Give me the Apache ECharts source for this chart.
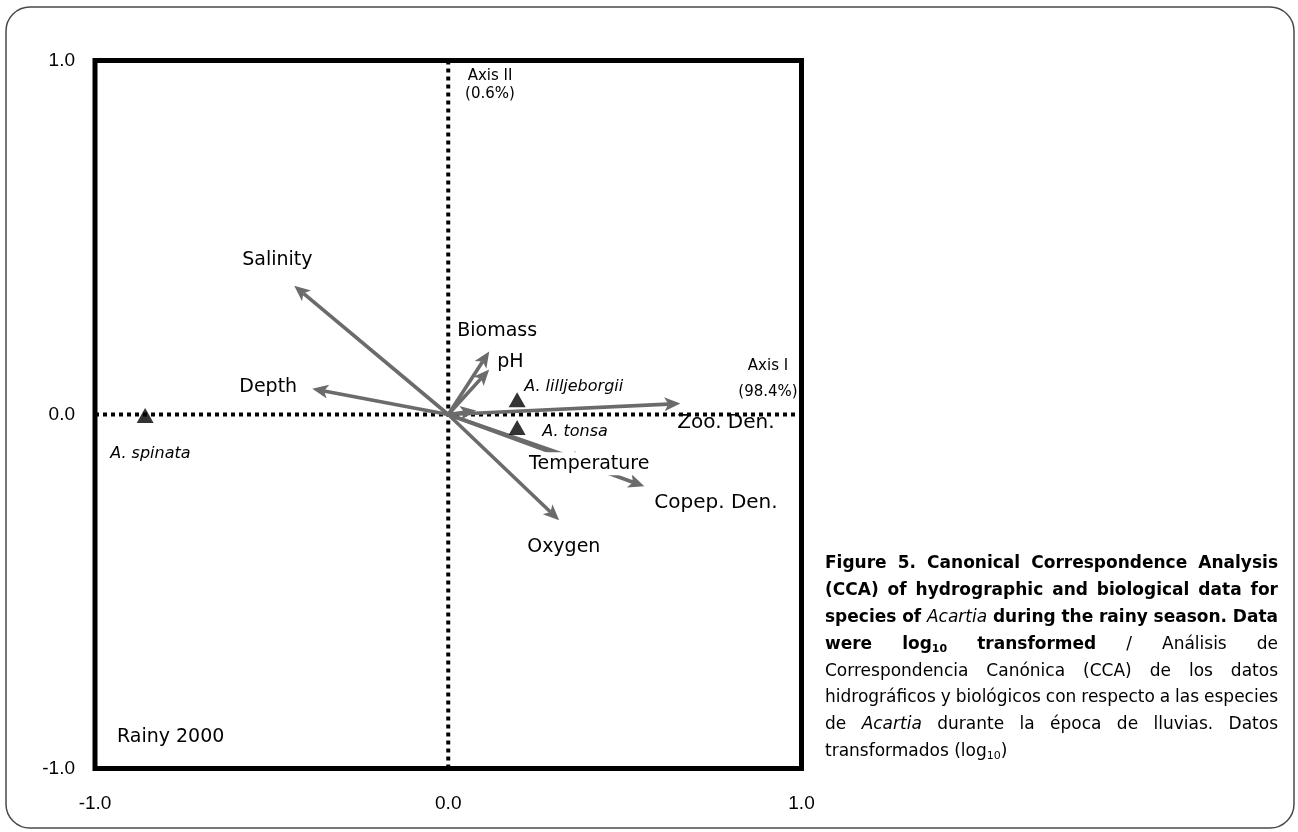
<!DOCTYPE html>
<html>
<head>
<meta charset="utf-8">
<title>CCA Acartia - Rainy 2000</title>
<script src="https://cdn.jsdelivr.net/npm/echarts@6/dist/echarts.min.js"></script>
<style>
  html, body { margin: 0; padding: 0; background: #fff; }
  #chart { width: 1298px; height: 832px; }
</style>
</head>
<body>
<div id="chart"></div>
<script>
// Environmental vectors: biplot scores on axis I and axis II
const vectorNames = ['Salinity', 'Depth', 'Biomass', 'pH', '', 'Zoo. Den.', 'Temperature', 'Copep. Den.', 'Oxygen'];
const vectorAxis1 = [-0.436, -0.385, 0.116, 0.116, 0.079, 0.657, 0.393, 0.555, 0.314];
const vectorAxis2 = [0.364, 0.073, 0.178, 0.127, 0.011, 0.031, -0.136, -0.203, -0.299];

// Species scores
const speciesNames = ['A. lilljeborgii', 'A. tonsa', 'A. spinata'];
const speciesAxis1 = [0.195, 0.195, -0.858];
const speciesAxis2 = [0.042, -0.037, -0.003];

// Axis range and ticks
const axisMin = -1;
const axisMax = 1;
const tickStep = 1;

// Text annotations
const axis1Title = ['Axis I', '(98.4%)'];
const axis2Title = ['Axis II', '(0.6%)'];
const panelTitle = 'Rainy 2000';

// Label placement (pixel offsets from the point: left edge of text, vertical centre)
const vectorLabelOffsets = {
  'Salinity': [-52, -26],
  'Depth': [-73, -2],
  'Biomass': [-32, -20],
  'pH': [8, -7],
  'Zoo. Den.': [-3, 19],
  'Temperature': [-60, 1],
  'Copep. Den.': [10, 16],
  'Oxygen': [-32, 27]
};
const speciesLabelOffsets = {
  'A. lilljeborgii': [7, -13],
  'A. tonsa': [25, 4],
  'A. spinata': [-35, 38]
};

const ARROW = '#6b6b6b';
const SANS = '"DejaVu Sans", Verdana, sans-serif';

const chart = echarts.init(document.getElementById('chart'), null, { renderer: 'canvas' });

// Arrow from the origin to each vector score
function renderArrow(params, api) {
  const p0 = api.coord([0, 0]);
  const p1 = api.coord([api.value(0), api.value(1)]);
  const dx = p1[0] - p0[0], dy = p1[1] - p0[1];
  const len = Math.hypot(dx, dy) || 1;
  const ux = dx / len, uy = dy / len, nx = -uy, ny = ux;
  const L = 16, W = 7, notch = 4;
  const base = [p1[0] - ux * L, p1[1] - uy * L];
  const nPt = [p1[0] - ux * (L - notch), p1[1] - uy * (L - notch)];
  return {
    type: 'group',
    children: [
      { type: 'line', shape: { x1: p0[0], y1: p0[1], x2: nPt[0], y2: nPt[1] },
        style: { stroke: ARROW, lineWidth: 3.6, lineCap: 'butt' } },
      { type: 'polygon',
        shape: { points: [p1, [base[0] + nx * W, base[1] + ny * W], nPt, [base[0] - nx * W, base[1] - ny * W]] },
        style: { fill: ARROW } }
    ]
  };
}

const vectorData = vectorNames.map((n, i) => [vectorAxis1[i], vectorAxis2[i]]);
const speciesData = speciesNames.map((n, i) => [speciesAxis1[i], speciesAxis2[i]]);

// Caption (justified, mixed weights)
const captionLines = [
  { base: 'b', text: 'Figure 5. Canonical Correspondence Analysis' },
  { base: 'b', text: '(CCA) of hydrographic and biological data for' },
  { base: 'b', text: 'species of {i:Acartia} during the rainy season. Data' },
  { base: 'b', text: 'were log{sub:10} transformed {r:/} {r:Análisis} {r:de}' },
  { base: 'r', text: 'Correspondencia Canónica (CCA) de los datos' },
  { base: 'r', text: 'hidrográficos y biológicos con respecto a las especies' },
  { base: 'r', text: 'de {i:Acartia} durante la época de lluvias. Datos' },
  { base: 'r', text: 'transformados (log{sub:10})', last: true }
];
const capLeft = 825, capRight = 1278, capTop = 564, capStep = 26.8;

const measureCtx = document.createElement('canvas').getContext('2d');
function runStyle(kind, base) {
  const bold = base === 'b';
  if (kind === 'i') return { fontStyle: 'italic', fontWeight: 'normal', fontSize: 17 };
  if (kind === 'r') return { fontStyle: 'normal', fontWeight: 'normal', fontSize: 17 };
  if (kind === 'sub') return { fontStyle: 'normal', fontWeight: bold ? 'bold' : 'normal', fontSize: 11 };
  return { fontStyle: 'normal', fontWeight: bold ? 'bold' : 'normal', fontSize: 17 };
}
function measure(text, st) {
  measureCtx.font = st.fontStyle + ' ' + st.fontWeight + ' ' + st.fontSize + 'px ' + SANS;
  return measureCtx.measureText(text).width;
}

function buildCaption() {
  const els = [];
  captionLines.forEach((line, li) => {
    const y = capTop + li * capStep;
    const words = line.text.split(' ').map(w => {
      const runs = [];
      const re = /\{(\w+):([^}]*)\}|([^{]+)/g;
      let m;
      while ((m = re.exec(w)) !== null) {
        if (m[1]) runs.push({ kind: m[1], t: m[2] });
        else runs.push({ kind: 'base', t: m[3] });
      }
      runs.forEach(r => { r.st = runStyle(r.kind, line.base); r.w = measure(r.t, r.st); });
      return { runs, w: runs.reduce((s, r) => s + r.w, 0) };
    });
    const total = words.reduce((s, w) => s + w.w, 0);
    const space = measure(' ', runStyle('base', line.base));
    const avail = capRight - capLeft;
    let scale = 1, gap = space;
    if (!line.last) {
      const minGap = space * 0.8;
      if (total + minGap * (words.length - 1) > avail) {
        scale = (avail - minGap * (words.length - 1)) / total;
        gap = minGap;
      } else {
        gap = (avail - total) / (words.length - 1);
      }
    }
    let x = capLeft;
    words.forEach(w => {
      w.runs.forEach(r => {
        els.push({
          type: 'text', x: x, y: r.kind === 'sub' ? y + 5 : y, scaleX: scale, silent: true,
          style: Object.assign({ text: r.t, fontFamily: SANS, fill: '#000', align: 'left', textAlign: 'left',
                   verticalAlign: 'middle', textVerticalAlign: 'middle' }, r.st)
        });
        x += r.w * scale;
      });
      x += gap;
    });
  });
  return els;
}

function plainText(x, y, text, size, align, extra) {
  return {
    type: 'text', x: x, y: y, silent: true, z: 10,
    style: Object.assign({ text: text, fontFamily: SANS, fontSize: size, fill: '#000', align: align,
             textAlign: align, verticalAlign: 'middle', textVerticalAlign: 'middle' }, extra || {})
  };
}

const option = {
  animation: false,
  backgroundColor: '#fff',
  grid: {
    left: 95, top: 60.5, right: 496.5, bottom: 63.5,
    show: true, borderColor: '#000', borderWidth: 5, backgroundColor: 'transparent'
  },
  xAxis: {
    type: 'value', min: axisMin, max: axisMax, interval: tickStep,
    axisLine: { show: false }, axisTick: { show: false }, splitLine: { show: false },
    axisLabel: { formatter: v => v.toFixed(1), fontFamily: '"Liberation Sans", Arial, sans-serif',
                 fontSize: 19, color: '#000', margin: 26 }
  },
  yAxis: {
    type: 'value', min: axisMin, max: axisMax, interval: tickStep,
    axisLine: { show: false }, axisTick: { show: false }, splitLine: { show: false },
    axisLabel: { formatter: v => v.toFixed(1), fontFamily: '"Liberation Sans", Arial, sans-serif',
                 fontSize: 19, color: '#000', margin: 20 }
  },
  series: [
    { // dotted zero line, axis I
      type: 'line', data: [[axisMin, 0], [axisMax, 0]], symbol: 'none', silent: true, z: 1,
      lineStyle: { color: '#000', width: 4, type: [4, 4] }
    },
    { // dotted zero line, axis II
      type: 'line', data: [[0, axisMin], [0, axisMax]], symbol: 'none', silent: true, z: 1,
      lineStyle: { color: '#000', width: 4, type: [4, 4] }
    },
    {
      type: 'custom', renderItem: renderArrow, data: vectorData, silent: true, z: 3,
      encode: { x: 0, y: 1 }
    },
    { // species
      type: 'scatter', data: speciesData, symbol: 'triangle', symbolSize: [17, 15], silent: true, z: 6,
      itemStyle: { color: '#000' }
    }
  ]
};

chart.setOption(option);

// Point labels placed from the axis scales
const labelEls = [];
vectorNames.forEach((n, i) => {
  if (!n) return;
  const p = chart.convertToPixel({ gridIndex: 0 }, [vectorAxis1[i], vectorAxis2[i]]);
  const off = vectorLabelOffsets[n];
  const isDen = (n === 'Zoo. Den.' || n === 'Copep. Den.');
  const extra = n === 'Temperature' ? { backgroundColor: '#fff', padding: [2, 2, 2, 2] } : {};
  labelEls.push(plainText(p[0] + off[0], p[1] + off[1], n, isDen ? 20 : 19, 'left', extra));
});
speciesNames.forEach((n, i) => {
  const p = chart.convertToPixel({ gridIndex: 0 }, [speciesAxis1[i], speciesAxis2[i]]);
  const off = speciesLabelOffsets[n];
  labelEls.push(plainText(p[0] + off[0], p[1] + off[1], n, 16, 'left', { fontStyle: 'italic' }));
});

chart.setOption({
  graphic: [
    { type: 'rect', silent: true, shape: { x: 6, y: 7, width: 1288, height: 821, r: 24 },
      style: { fill: 'none', stroke: '#4a4a4a', lineWidth: 1.5 } },
    plainText(490, 76, axis2Title[0], 15, 'center'),
    plainText(490, 94, axis2Title[1], 15, 'center'),
    plainText(768, 366, axis1Title[0], 15, 'center'),
    plainText(768, 392, axis1Title[1], 15, 'center'),
    plainText(117, 737, panelTitle, 19, 'left')
  ].concat(labelEls, buildCaption())
});
</script>
</body>
</html>
